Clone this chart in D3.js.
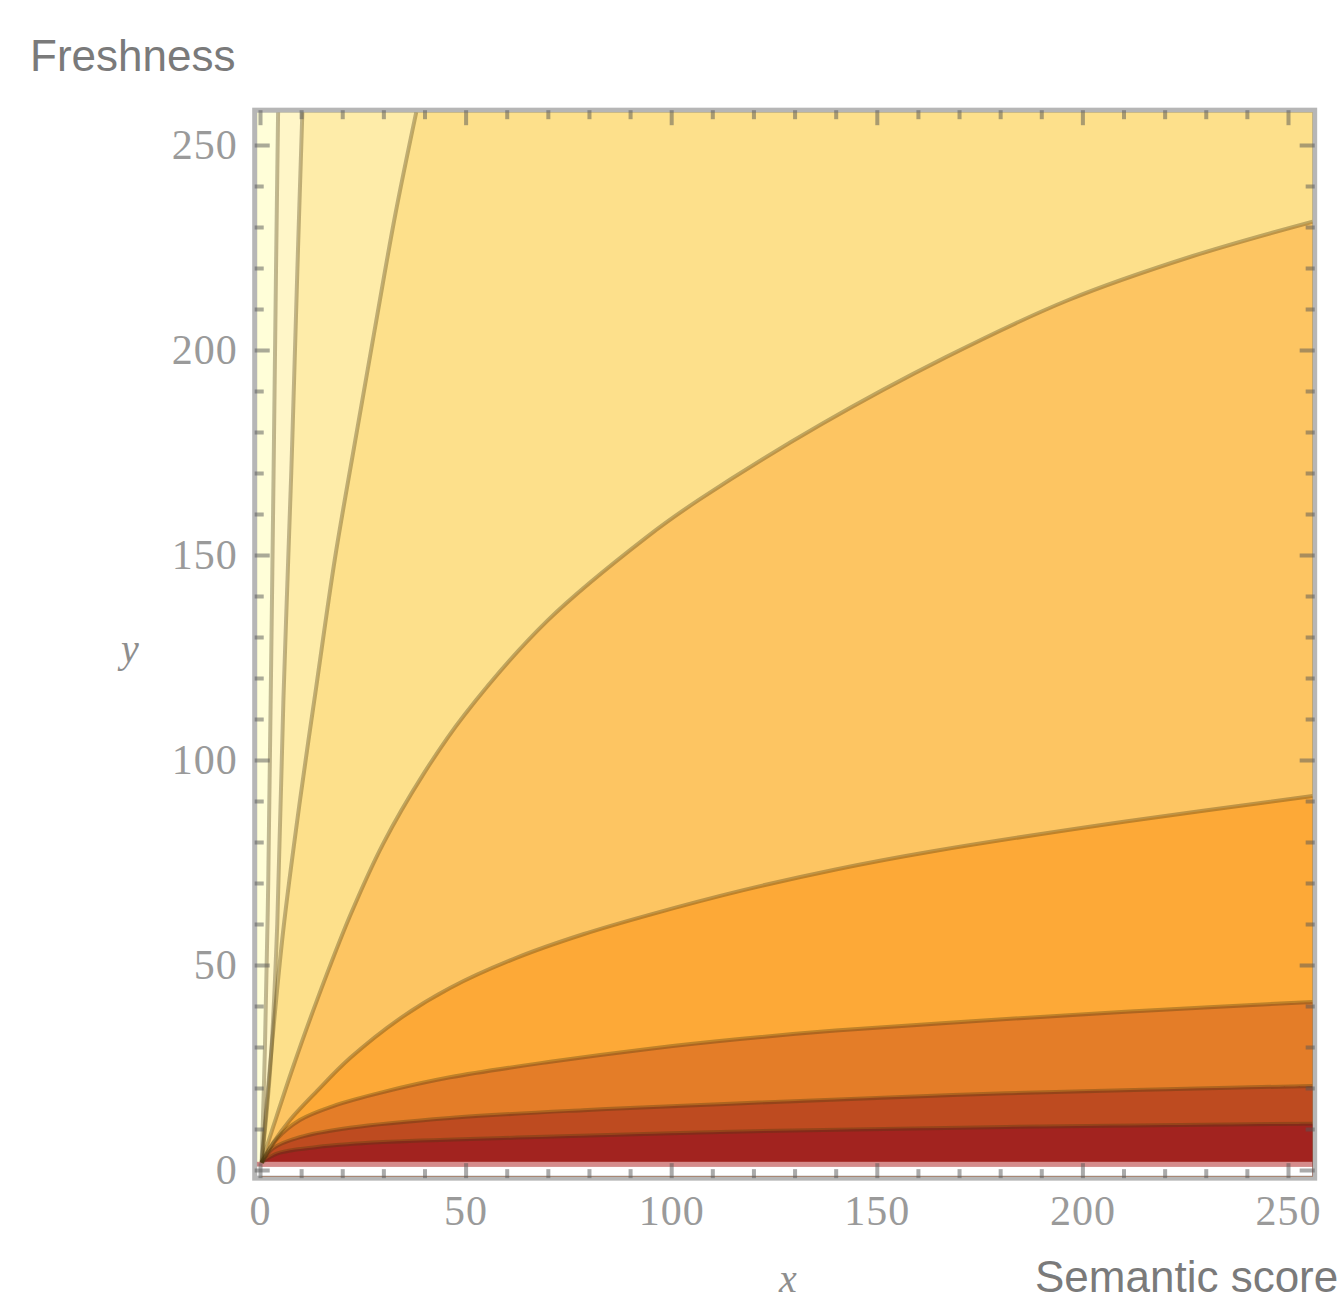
<!DOCTYPE html>
<html>
<head>
<meta charset="utf-8">
<script src="https://cdn.jsdelivr.net/npm/d3@7"></script>
<style>
    html, body { margin: 0; padding: 0; background: #fff; }
    svg { display: block; }
</style>
</head>
<body>
<div id="chart"></div>
<script>
// contour lines, [x, y] in data units, each one running out from the origin
const line1 = [[0.4, 1.8], [1.2, 30], [2.0, 70], [2.6, 115], [3.3, 170], [3.9, 220], [4.4, 258]];
const line2 = [[0.4, 1.8], [2.5, 25], [4.2, 60], [5.7, 115], [7.6, 170], [9.1, 220], [10.3, 258]];
const line3 = [[0.4, 1.8], [2.4, 25], [5.6, 58], [9.7, 90], [13.7, 118], [18.2, 149], [23, 177],
    [27.9, 205], [32.9, 233], [38, 258]];
const curveA = [[0.4, 1.8], [3.2, 10.5], [8, 25], [13.9, 41.5], [21.9, 62], [29.9, 79.5], [39.7, 96.5],
    [49.7, 111], [69.9, 134], [94.2, 154.5], [106.8, 163.5], [136.7, 182], [166.7, 198.2],
    [196.6, 212.2], [226.5, 222.8], [256, 231.3]];
const curveB = [[0.4, 1.8], [3.2, 6.6], [7.3, 12.2], [13.9, 19.3], [21.9, 27.3], [34.1, 37], [46.2, 44.4],
    [62.5, 51.8], [78.6, 57.5], [94.9, 62.3], [117.3, 68.2], [140, 73.3], [164, 77.8], [210.5, 85],
    [256, 91.2]];
const curveC = [[0.4, 1.8], [4.1, 7.6], [9.7, 12.2], [17.8, 15.6], [29.9, 19], [46.2, 22.6], [70.6, 26.4],
    [94.9, 29.6], [117.3, 32.0], [140, 34.0], [173.2, 36.3], [210.5, 38.6], [256, 41]];
const curveD = [[0.4, 1.8], [3.2, 5.3], [9.7, 8], [21.9, 10.3], [46.2, 12.7], [78.6, 14.6], [117.3, 16.3],
    [181.5, 18.7], [256, 20.5]];
const curveE = [[0.4, 1.8], [4.1, 4.0], [13.9, 5.6], [29.9, 6.8], [62.5, 7.9], [117.3, 9.4], [181.5, 10.5],
    [256, 11.3]];

const contours = [line1, line2, line3, curveA, curveB, curveC, curveD, curveE];

// band colours, from the top left band down to the bottom band
const bandColors = ['#fffed8', '#fff6c8', '#feeca9', '#fde08b', '#fdc562', '#fda937', '#e47d28', '#be4b20', '#a2231f'];

// below this the surface is not drawn (white strip at the bottom)
const floorBand = [0.8, 2.0];

const xExtent = [-0.8, 256];
const yExtent = [-1.5, 258];
const majorTicks = [0, 50, 100, 150, 200, 250];
const minorTicks = d3.range(10, 260, 10).filter(v => v % 50 !== 0);

document.addEventListener('DOMContentLoaded', () => {
    const width = 1340;
    const height = 1305;

    const svg = d3.select('#chart').append('svg')
        .attr('width', width)
        .attr('height', height);

    const x = d3.scaleLinear().domain([0, 250]).range([260, 1288]);
    const y = d3.scaleLinear().domain([0, 250]).range([1170, 145]);

    const [x0, x1] = xExtent;
    const [y0, y1] = yExtent;

    svg.append('defs').append('clipPath')
        .attr('id', 'plot-clip')
        .append('rect')
        .attr('x', x(x0))
        .attr('y', y(y1))
        .attr('width', x(x1) - x(x0))
        .attr('height', y(y0) - y(y1));

    const plot = svg.append('g').attr('clip-path', 'url(#plot-clip)');

    plot.append('rect')
        .attr('x', x(x0))
        .attr('y', y(y1))
        .attr('width', x(x1) - x(x0))
        .attr('height', y(y0) - y(y1))
        .attr('fill', bandColors[0]);

    const lineGen = d3.line()
        .x(d => x(d[0]))
        .y(d => y(d[1]))
        .curve(d3.curveCatmullRom.alpha(0.5));

    // paint each band as the region below / right of its upper contour
    contours.forEach((pts, i) => {
        const start = pts[0];
        const last = pts[pts.length - 1];
        let tail = '';
        if (last[1] >= y1 - 0.5) tail += `L${x(x1 + 3)},${y(y1 + 3)}`;
        tail += `L${x(x1 + 3)},${y(y0 - 3)}L${x(start[0])},${y(y0 - 3)}Z`;
        plot.append('path')
            .attr('d', lineGen(pts) + tail)
            .attr('fill', bandColors[i + 1]);
    });

    plot.append('rect')
        .attr('x', x(x0))
        .attr('y', y(floorBand[1]))
        .attr('width', x(x1) - x(x0))
        .attr('height', y(floorBand[0]) - y(floorBand[1]))
        .attr('fill', '#d58b8b');

    plot.append('rect')
        .attr('x', x(x0))
        .attr('y', y(floorBand[0]))
        .attr('width', x(x1) - x(x0))
        .attr('height', y(y0 - 3) - y(floorBand[0]))
        .attr('fill', '#fff');

    plot.append('g')
        .selectAll('path')
        .data(contours)
        .join('path')
        .attr('d', lineGen)
        .attr('fill', 'none')
        .attr('stroke', '#4a3a10')
        .attr('stroke-opacity', 0.35)
        .attr('stroke-width', 4);

    // frame
    svg.append('rect')
        .attr('x', x(x0) - 2)
        .attr('y', y(y1) - 2)
        .attr('width', x(x1) - x(x0) + 4)
        .attr('height', y(y0) - y(y1) + 4)
        .attr('fill', 'none')
        .attr('stroke', '#6e6e6e')
        .attr('stroke-opacity', 0.5)
        .attr('stroke-width', 5);

    const sides = [
        { axis: () => d3.axisLeft(y), at: `translate(${x(x0) - 2},0)`, labels: true },
        { axis: () => d3.axisRight(y), at: `translate(${x(x1) + 2},0)`, labels: false },
        { axis: () => d3.axisBottom(x), at: `translate(0,${y(y0) + 2})`, labels: true },
        { axis: () => d3.axisTop(x), at: `translate(0,${y(y1) - 2})`, labels: false }
    ];

    sides.forEach(side => {
        const minor = svg.append('g')
            .attr('transform', side.at)
            .call(side.axis().tickValues(minorTicks).tickSize(-9).tickFormat(''));
        const major = svg.append('g')
            .attr('transform', side.at)
            .call(side.axis().tickValues(majorTicks).tickSize(-15).tickPadding(side.labels ? 17 : 0)
                .tickFormat(side.labels ? d3.format('d') : ''));

        [minor, major].forEach(g => {
            g.select('.domain').remove();
            g.selectAll('.tick line')
                .attr('stroke', '#555')
                .attr('stroke-opacity', 0.5)
                .attr('stroke-width', 4);
        });

        major.selectAll('.tick text')
            .attr('font-family', '"Liberation Serif", "DejaVu Serif", serif')
            .attr('font-size', 42)
            .attr('letter-spacing', 1)
            .attr('fill', '#9a9a9a');
    });

    svg.append('text')
        .attr('x', 130)
        .attr('y', 662)
        .attr('text-anchor', 'middle')
        .attr('font-family', '"Liberation Serif", "DejaVu Serif", serif')
        .attr('font-style', 'italic')
        .attr('font-size', 40)
        .attr('fill', '#8e8e8e')
        .text('y');

    svg.append('text')
        .attr('x', 788)
        .attr('y', 1292)
        .attr('text-anchor', 'middle')
        .attr('font-family', '"Liberation Serif", "DejaVu Serif", serif')
        .attr('font-style', 'italic')
        .attr('font-size', 40)
        .attr('fill', '#8e8e8e')
        .text('x');

    svg.append('text')
        .attr('x', 30)
        .attr('y', 71)
        .attr('font-family', '"Liberation Sans", Arial, sans-serif')
        .attr('font-size', 44)
        .attr('fill', '#7a7a7a')
        .text('Freshness');

    svg.append('text')
        .attr('x', 1035)
        .attr('y', 1292)
        .attr('font-family', '"Liberation Sans", Arial, sans-serif')
        .attr('font-size', 44)
        .attr('fill', '#7a7a7a')
        .text('Semantic score');
});
</script>
</body>
</html>
